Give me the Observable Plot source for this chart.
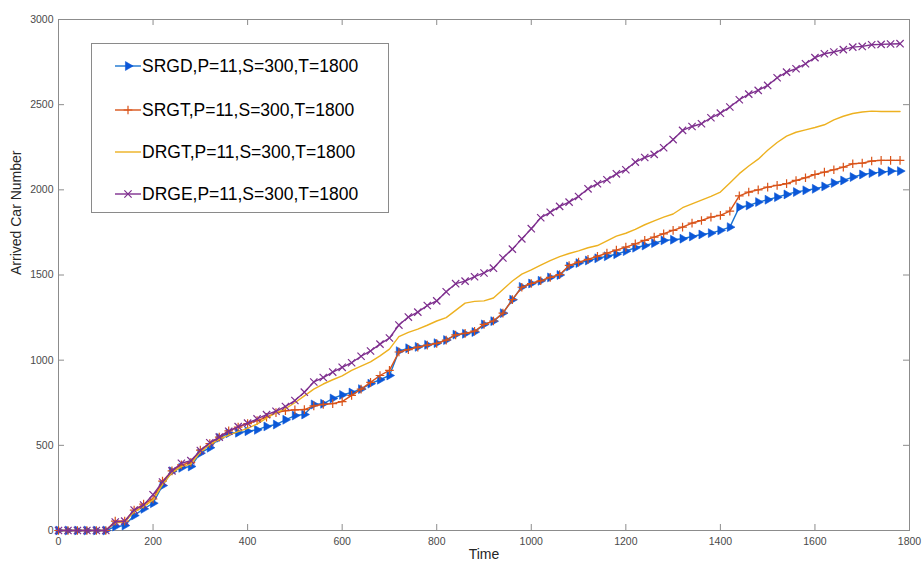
<!DOCTYPE html>
<html>
<head>
<meta charset="utf-8">
<script src="https://cdn.jsdelivr.net/npm/d3@7"></script>
<script src="https://cdn.jsdelivr.net/npm/@observablehq/plot@0.6"></script>
<style>
  body { margin: 0; background: #fff; font-family: "Liberation Sans", Arial, sans-serif; }
  #wrap { position: relative; width: 922px; height: 563px; overflow: hidden; }
  #legend { position: absolute; left: 91px; top: 43px; width: 298px; height: 170px;
            border: 1px solid #8a8a8a; background: #fff; box-sizing: border-box; }
  .row { position: absolute; left: 23px; height: 24px; display: flex; align-items: center;
         font-size: 17.5px; color: #000; white-space: nowrap; }
  .row svg { margin-right: 1px; }
</style>
</head>
<body>
<div id="wrap"><div id="legend"></div></div>
<script>
// ---- data ----
const time = [0,20,40,60,80,100,120,140,160,180,200,220,240,260,280,300,320,340,360,380,
  400,420,440,460,480,500,520,540,560,580,600,620,640,660,680,700,720,740,760,780,
  800,820,840,860,880,900,920,940,960,980,1000,1020,1040,1060,1080,1100,1120,1140,1160,1180,
  1200,1220,1240,1260,1280,1300,1320,1340,1360,1380,1400,1420,1440,1460,1480,1500,1520,1540,1560,1580,
  1600,1620,1640,1660,1680,1700,1720,1740,1760,1780];

const SRGD = [0,0,0,0,0,0,
  23,29,88,127,160,264,348,368,376,454,
  486,544,571,574,583,591,611,622,650,675,
  681,740,744,775,796,810,830,862,885,910,
  1053,1070,1078,1090,1100,1118,1150,1155,1165,1210,
  1229,1276,1355,1430,1450,1466,1486,1500,1550,1570,
  1585,1598,1610,1622,1640,1660,1673,1687,1703,1707,
  1713,1726,1738,1746,1762,1781,1898,1908,1928,1942,
  1957,1973,1987,1997,2006,2020,2040,2055,2075,2090,
  2098,2104,2110,2110];

const SRGT = [0,0,0,0,0,0,
  55,55,120,155,185,290,350,385,400,472,
  510,548,585,607,628,645,665,692,703,708,
  710,732,740,745,757,793,830,870,910,940,
  1048,1062,1076,1088,1098,1118,1148,1157,1170,1210,
  1230,1276,1355,1428,1450,1466,1486,1502,1556,1576,
  1592,1610,1628,1646,1664,1683,1703,1722,1742,1762,
  1781,1805,1820,1840,1850,1875,1965,1987,2000,2016,
  2026,2036,2055,2071,2090,2104,2118,2133,2153,2157,
  2169,2173,2173,2173];

const DRGT = [0,0,0,0,0,0,
  45,50,110,140,180,270,340,375,390,460,
  505,535,560,580,600,625,660,690,715,750,
  790,830,860,885,908,940,965,990,1025,1065,
  1138,1163,1182,1205,1230,1250,1292,1335,1345,1348,
  1365,1415,1465,1505,1530,1558,1585,1608,1626,1642,
  1660,1673,1700,1728,1745,1768,1795,1818,1840,1858,
  1895,1918,1940,1962,1987,2040,2095,2140,2180,2232,
  2278,2315,2338,2352,2366,2382,2411,2432,2448,2457,
  2462,2460,2460,2460];

const DRGE = [0,0,0,0,0,0,
  50,55,120,150,210,285,350,395,410,470,
  515,548,583,610,630,655,680,700,728,763,
  812,872,898,930,958,985,1023,1054,1094,1130,
  1206,1253,1282,1321,1348,1402,1449,1464,1490,1512,
  1540,1600,1652,1712,1772,1836,1868,1903,1928,1961,
  2006,2036,2059,2094,2118,2163,2190,2208,2247,2295,
  2349,2372,2388,2423,2450,2486,2529,2562,2584,2613,
  2658,2691,2711,2740,2776,2799,2809,2823,2838,2842,
  2852,2854,2856,2858];

const seriesNames = ["SRGD,P=11,S=300,T=1800", "SRGT,P=11,S=300,T=1800",
                     "DRGT,P=11,S=300,T=1800", "DRGE,P=11,S=300,T=1800"];
const xTicks = [0,200,400,600,800,1000,1200,1400,1600,1800];
const yTicks = [0,500,1000,1500,2000,2500,3000];
const xLabel = "Time";
const yLabel = "Arrived Car Number";

// ---- styles ----
const seriesValues = [SRGD, SRGT, DRGT, DRGE];
const lineColors = ["#1a74d0", "#D95319", "#EDB120", "#7E2F8E"];
const axisGray = "#8c8c8c";

// right-pointing triangle symbol
const triRight = {
  draw(ctx, size) {
    const s = Math.sqrt(size * 4 / Math.sqrt(3));
    const h = s * Math.sqrt(3) / 2;
    ctx.moveTo(2 * h / 3, 0);
    ctx.lineTo(-h / 3, s / 2);
    ctx.lineTo(-h / 3, -s / 2);
    ctx.closePath();
  }
};
const markerSpec = [
  {symbol: triRight, r: 3.3, fill: "#0b57d8", stroke: "#0b57d8", strokeWidth: 0.6},
  {symbol: "plus", r: 2.9, fill: "none", stroke: "#D95319", strokeWidth: 1.2},
  null,
  {symbol: "times", r: 3.4, fill: "none", stroke: "#7E2F8E", strokeWidth: 1.2}
];

const tables = seriesValues.map(vals => vals.map((v, i) => ({t: time[i], v})));

const marks = [
  Plot.frame({stroke: axisGray}),
  Plot.tickX(xTicks, {x: d => d, stroke: axisGray, insetTop: 505}),
  Plot.tickX(xTicks, {x: d => d, stroke: axisGray, insetBottom: 505}),
  Plot.tickY(yTicks, {y: d => d, stroke: axisGray, insetRight: 845}),
  Plot.tickY(yTicks, {y: d => d, stroke: axisGray, insetLeft: 845}),
  Plot.axisX({ticks: xTicks, tickSize: 0, tickPadding: 7, tickFormat: d => String(d), label: null, fill: "#4a4a4a"}),
  Plot.axisY({ticks: yTicks, tickSize: 0, tickPadding: 5, tickFormat: d => String(d), label: null, fill: "#4a4a4a"}),
  Plot.text([xLabel], {frameAnchor: "bottom", dy: 19, lineAnchor: "top", fontSize: 14, fill: "#262626"}),
  Plot.text([yLabel], {frameAnchor: "left", dx: -42, rotate: -90, fontSize: 14, fill: "#262626"})
];
tables.forEach((tab, i) => {
  marks.push(Plot.line(tab, {x: "t", y: "v", stroke: lineColors[i], strokeWidth: 1.4}));
  if (markerSpec[i]) marks.push(Plot.dot(tab, {x: "t", y: "v", ...markerSpec[i]}));
});

const chart = Plot.plot({
  width: 922, height: 563,
  marginLeft: 58, marginRight: 13, marginTop: 19, marginBottom: 33,
  style: {fontFamily: "'Liberation Sans', Arial, sans-serif", fontSize: "10.5px", background: "#fff", overflow: "visible"},
  x: {domain: [0, 1800]},
  y: {domain: [0, 3000]},
  marks
});
const wrap = document.getElementById("wrap");
wrap.insertBefore(chart, wrap.firstChild);

// ---- legend (HTML overlay) ----
const legend = document.getElementById("legend");
const rowTops = [10, 54, 96, 138];
seriesNames.forEach((name, i) => {
  const row = document.createElement("div");
  row.className = "row";
  row.style.top = rowTops[i] + "px";
  const ns = "http://www.w3.org/2000/svg";
  const svg = document.createElementNS(ns, "svg");
  svg.setAttribute("width", 26); svg.setAttribute("height", 14);
  const ln = document.createElementNS(ns, "line");
  ln.setAttribute("x1", 0); ln.setAttribute("x2", 26); ln.setAttribute("y1", 7); ln.setAttribute("y2", 7);
  ln.setAttribute("stroke", lineColors[i]); ln.setAttribute("stroke-width", 1.4);
  svg.appendChild(ln);
  const m = markerSpec[i];
  if (m) {
    const sym = m.symbol === "plus" ? d3.symbolPlus : m.symbol === "times" ? d3.symbolTimes : m.symbol;
    const p = document.createElementNS(ns, "path");
    p.setAttribute("d", d3.symbol(sym, m.r * m.r * Math.PI)());
    p.setAttribute("transform", "translate(13,7)");
    p.setAttribute("fill", m.fill); p.setAttribute("stroke", m.stroke);
    p.setAttribute("stroke-width", m.strokeWidth);
    svg.appendChild(p);
  }
  row.appendChild(svg);
  const span = document.createElement("span");
  span.textContent = name;
  row.appendChild(span);
  legend.appendChild(row);
});
</script>
</body>
</html>
